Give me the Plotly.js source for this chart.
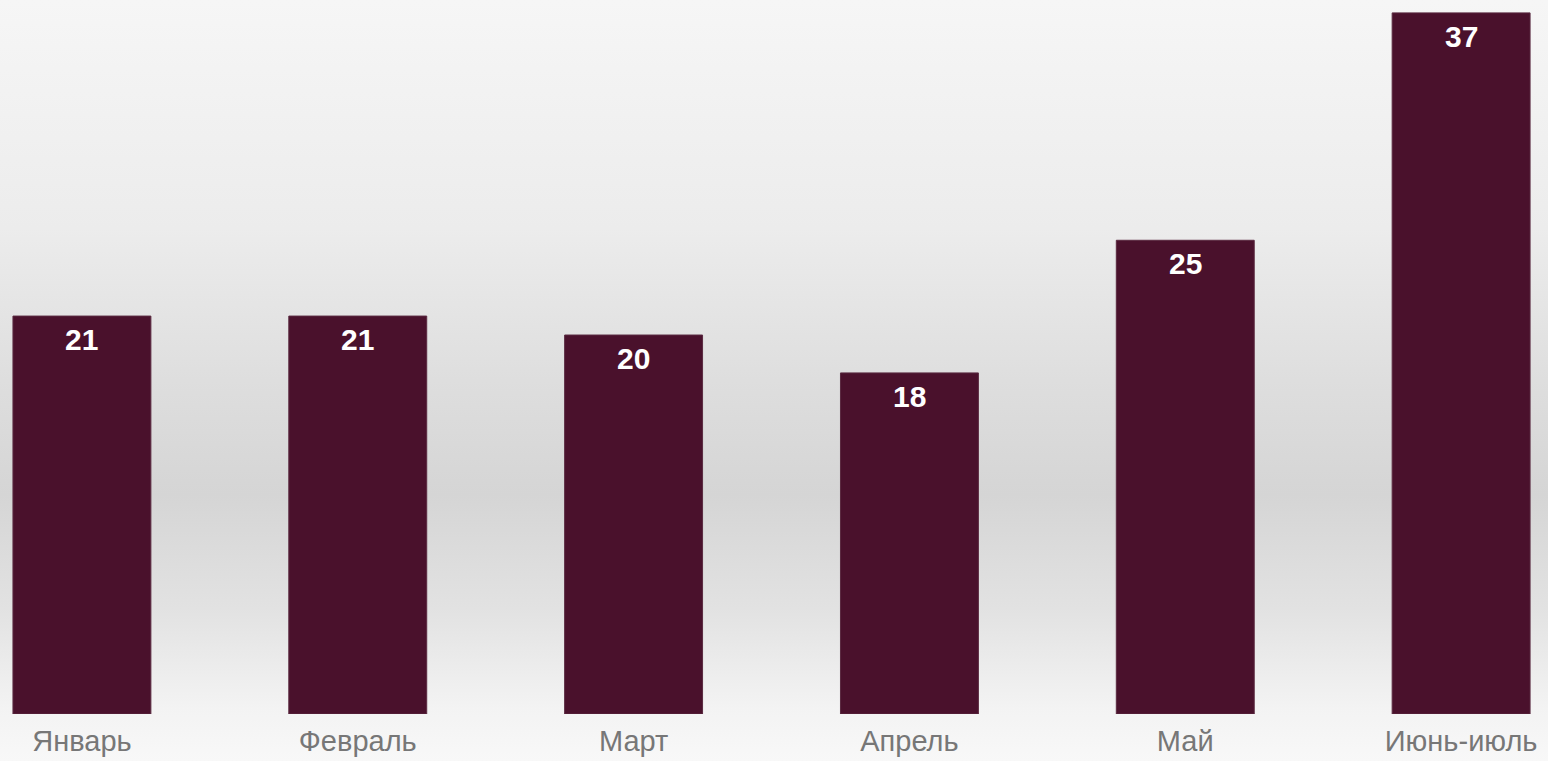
<!DOCTYPE html>
<html>
<head>
<meta charset="utf-8">
<script src="https://cdn.plot.ly/plotly-3.0.1.min.js"></script>
<style>
html, body { margin:0; padding:0; width:1548px; height:761px; overflow:hidden;
  background: linear-gradient(to bottom, #f6f6f6 0%, #ececec 30%, #dedede 50%, #d5d5d5 65%, #e2e2e2 80%, #f3f3f3 93%, #f8f8f8 100%); }
#chart { width:1548px; height:761px; }
</style>
</head>
<body>
<div id="chart"></div>
<script>
const categories = ["Январь", "Февраль", "Март", "Апрель", "Май", "Июнь-июль"];
const values = [21, 21, 20, 18, 25, 37];

const barColor = "#4a112c";

const trace = {
  type: "bar",
  x: categories,
  y: values,
  width: 0.5,
  marker: { color: barColor, line: { color: "#5a2a40", width: 1 } },
  hoverinfo: "x+y"
};

const annotations = categories.map((c, i) => ({
  x: c, y: values[i], xref: "x", yref: "y",
  text: String(values[i]),
  showarrow: false, yanchor: "top", yshift: -5,
  font: { family: "Liberation Sans, Arial, sans-serif", size: 30, color: "#ffffff", weight: "bold" }
}));

const layout = {
  width: 1548, height: 761,
  margin: { l: 0, r: 0, t: 0, b: 47, pad: 0 },
  paper_bgcolor: "rgba(0,0,0,0)",
  plot_bgcolor: "rgba(0,0,0,0)",
  showlegend: false,
  xaxis: {
    type: "category",
    range: [-0.297, 5.315],
    showgrid: false, zeroline: false, showline: false, ticks: "",
    ticklabelstandoff: 7,
    tickfont: { family: "Liberation Sans, Arial, sans-serif", size: 29, color: "#777777" },
    fixedrange: true
  },
  yaxis: {
    range: [0, 37.68],
    showgrid: false, zeroline: false, showline: false, showticklabels: false, ticks: "",
    fixedrange: true
  },
  annotations: annotations,
  bargap: 0.5
};

Plotly.newPlot("chart", [trace], layout, { displayModeBar: false, staticPlot: true });
</script>
</body>
</html>
